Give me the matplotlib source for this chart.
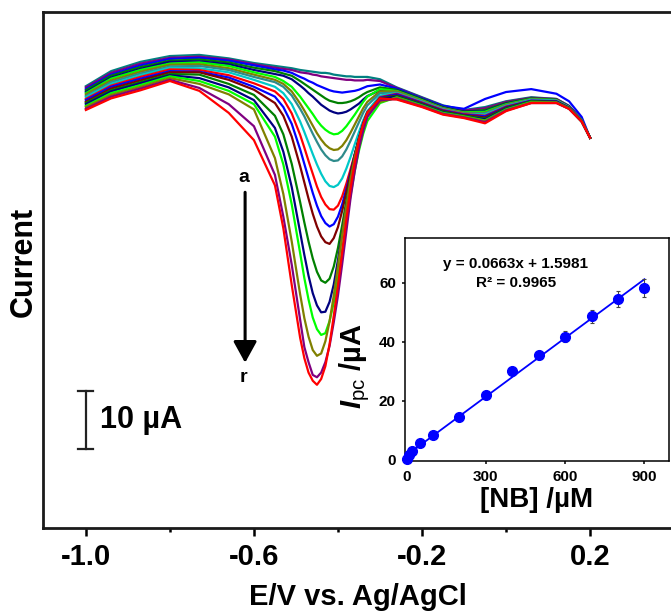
import matplotlib
matplotlib.use('Agg')
import matplotlib.pyplot as plt

plt.rcParams['font.family'] = ['Liberation Sans', 'DejaVu Sans']
plt.rcParams['axes.unicode_minus'] = False
plt.rcParams['mathtext.fontset'] = 'custom'
plt.rcParams['mathtext.it'] = 'Liberation Sans:italic:bold'
plt.rcParams['mathtext.rm'] = 'Liberation Sans:bold'
plt.rcParams['mathtext.sf'] = 'Liberation Sans'

# potential grid (V) shared by all DPV curves
potential = [-1.00, -0.94, -0.87, -0.80, -0.73, -0.66, -0.60,
             -0.55, -0.53, -0.51, -0.49, -0.48, -0.47, -0.46, -0.45, -0.44, -0.43,
             -0.42, -0.41, -0.40, -0.39, -0.38, -0.37, -0.36, -0.35, -0.34, -0.33, -0.30,
             -0.26, -0.20, -0.15, -0.10, -0.05, 0.00, 0.06, 0.12, 0.15, 0.18, 0.20]

# currents (uA), curves a..r
cur_a = [-4.5, -1.9, -0.3, 0.7, 0.9, 0.3, -0.5,
         -1.0, -1.2, -1.4, -1.7, -1.8, -1.9, -2.0, -2.1, -2.2, -2.2,
         -2.3, -2.5, -2.6, -2.7, -2.8, -2.8, -2.9, -2.9, -2.9, -2.9, -3.3,
         -4.7, -6.4, -7.8, -8.6, -8.1, -7.1, -6.4, -6.7, -7.9, -10.3, -13.4]
cur_b = [-4.7, -2.2, -0.6, 0.4, 0.6, 0.1, -0.7,
         -1.3, -1.5, -1.7, -2.1, -2.2, -2.3, -2.5, -2.6, -2.8, -2.9,
         -3.0, -3.1, -3.2, -3.3, -3.4, -3.4, -3.5, -3.5, -3.5, -3.4, -3.6,
         -4.8, -6.5, -7.9, -8.7, -8.3, -7.2, -6.5, -6.7, -7.9, -10.3, -13.4]
cur_c = [-5.0, -2.5, -0.9, 0.2, 0.4, -0.1, -0.9,
         -1.6, -1.8, -2.2, -2.9, -3.2, -3.6, -3.9, -4.3, -4.6, -4.9,
         -5.2, -5.4, -5.5, -5.6, -5.5, -5.4, -5.3, -5.1, -4.8, -4.5, -4.2,
         -4.9, -6.6, -7.9, -8.4, -6.7, -5.5, -5.0, -5.8, -7.1, -9.8, -13.4]
cur_d = [-5.2, -2.7, -1.2, -0.1, 0.1, -0.4, -1.3,
         -1.9, -2.3, -2.7, -3.6, -4.1, -4.6, -5.1, -5.6, -6.1, -6.6,
         -7.0, -7.2, -7.4, -7.4, -7.3, -7.1, -6.8, -6.4, -5.9, -5.5, -4.7,
         -5.1, -6.7, -8.1, -8.9, -8.6, -7.4, -6.6, -6.8, -8.0, -10.4, -13.4]
cur_e = [-5.5, -3.0, -1.5, -0.3, -0.2, -0.7, -1.7,
         -2.4, -2.7, -3.3, -4.4, -5.0, -5.7, -6.3, -7.0, -7.7, -8.2,
         -8.7, -9.0, -9.2, -9.1, -8.9, -8.5, -8.0, -7.5, -6.8, -6.2, -5.2,
         -5.2, -6.8, -8.2, -8.9, -8.8, -7.5, -6.7, -6.9, -8.0, -10.4, -13.4]
cur_f = [-5.7, -3.2, -1.7, -0.6, -0.4, -1.0, -2.1,
         -2.9, -3.6, -4.6, -6.3, -7.3, -8.3, -9.3, -10.4, -11.3, -12.0,
         -12.5, -12.8, -12.7, -12.2, -11.4, -10.4, -9.4, -8.3, -7.2, -6.3, -5.0,
         -5.3, -6.9, -8.3, -9.0, -8.9, -7.6, -6.7, -6.9, -8.1, -10.4, -13.4]
cur_g = [-5.9, -3.5, -2.0, -0.8, -0.7, -1.4, -2.5,
         -3.4, -4.1, -5.4, -7.5, -8.7, -10.0, -11.3, -12.6, -13.7, -14.6,
         -15.2, -15.5, -15.4, -14.8, -13.8, -12.5, -11.1, -9.7, -8.3, -7.2, -5.4,
         -5.4, -7.0, -8.3, -9.1, -9.1, -7.7, -6.8, -6.9, -8.1, -10.4, -13.4]
cur_h = [-6.2, -3.8, -2.3, -1.1, -1.0, -1.7, -2.9,
         -3.8, -4.6, -6.1, -8.4, -9.7, -11.2, -12.7, -14.1, -15.4, -16.4,
         -17.1, -17.4, -17.3, -16.6, -15.4, -13.9, -12.3, -10.7, -9.1, -7.8, -5.7,
         -5.6, -7.1, -8.4, -9.2, -9.2, -7.8, -6.8, -7.0, -8.1, -10.4, -13.4]
cur_i = [-6.4, -4.1, -2.6, -1.3, -1.4, -2.1, -3.4,
         -4.6, -5.7, -7.6, -10.6, -12.4, -14.3, -16.2, -18.0, -19.6, -20.9,
         -21.7, -21.9, -21.5, -20.4, -18.7, -16.7, -14.5, -12.4, -10.4, -8.8, -6.1,
         -5.7, -7.2, -8.5, -9.3, -9.4, -7.9, -6.9, -7.0, -8.1, -10.5, -13.4]
cur_j = [-6.7, -4.4, -2.9, -1.6, -1.7, -2.6, -4.0,
         -5.4, -6.7, -9.2, -12.9, -15.1, -17.4, -19.6, -21.8, -23.6, -24.9,
         -25.7, -25.8, -25.1, -23.5, -21.3, -18.8, -16.2, -13.6, -11.3, -9.4, -6.4,
         -5.8, -7.3, -8.6, -9.3, -9.6, -8.0, -7.0, -7.1, -8.2, -10.5, -13.4]
cur_k = [-6.9, -4.6, -3.2, -1.9, -2.0, -3.0, -4.6,
         -6.3, -8.1, -11.0, -15.4, -17.9, -20.4, -22.9, -25.1, -26.9, -28.1,
         -28.7, -28.3, -27.0, -24.9, -22.2, -19.3, -16.3, -13.6, -11.2, -9.3, -6.5,
         -5.9, -7.4, -8.7, -9.4, -9.7, -8.1, -7.0, -7.1, -8.2, -10.5, -13.4]
cur_l = [-7.2, -4.9, -3.5, -2.1, -2.1, -3.4, -5.1,
         -7.4, -9.6, -13.2, -18.3, -21.1, -23.9, -26.5, -28.7, -30.4, -31.4,
         -31.7, -30.7, -28.8, -26.0, -22.8, -19.5, -16.3, -13.5, -11.1, -9.2, -6.6,
         -6.1, -7.5, -8.8, -9.5, -9.9, -8.2, -7.1, -7.2, -8.2, -10.5, -13.4]
cur_m = [-7.4, -5.2, -3.8, -2.4, -2.5, -4.1, -6.0,
         -9.6, -12.8, -17.9, -24.5, -28.0, -31.3, -34.2, -36.5, -38.0, -38.4,
         -37.7, -35.6, -32.4, -28.5, -24.3, -20.3, -16.6, -13.6, -11.0, -9.1, -6.6,
         -6.2, -7.6, -8.9, -9.6, -10.1, -8.3, -7.1, -7.2, -8.3, -10.5, -13.4]
cur_n = [-7.6, -5.4, -4.0, -2.6, -3.1, -4.7, -6.9,
         -11.7, -15.8, -21.9, -29.7, -33.6, -37.2, -40.2, -42.3, -43.5, -43.4,
         -41.7, -38.7, -34.5, -29.9, -25.0, -20.6, -16.6, -13.4, -10.9, -9.0, -6.7,
         -6.3, -7.7, -9.0, -9.7, -10.2, -8.4, -7.2, -7.2, -8.3, -10.6, -13.4]
cur_o = [-7.9, -5.7, -4.3, -2.8, -3.6, -5.3, -7.6,
         -13.2, -18.0, -24.9, -33.3, -37.6, -41.3, -44.4, -46.4, -47.4, -47.1,
         -45.0, -41.8, -37.6, -32.8, -27.9, -23.3, -19.1, -15.6, -12.7, -10.5, -7.4,
         -6.4, -7.8, -9.1, -9.7, -10.4, -8.5, -7.2, -7.3, -8.3, -10.6, -13.4]
cur_p = [-8.1, -6.0, -4.6, -3.1, -4.1, -5.9, -8.5,
         -16.9, -23.1, -31.3, -40.4, -44.5, -47.7, -50.0, -51.0, -50.6, -48.5,
         -45.1, -40.6, -35.5, -30.1, -25.1, -20.5, -16.7, -13.6, -11.2, -9.4, -7.2,
         -6.5, -7.9, -9.2, -9.8, -10.5, -8.6, -7.3, -7.3, -8.4, -10.6, -13.4]
cur_q = [-8.4, -6.3, -4.9, -3.4, -4.8, -7.6, -11.4,
         -19.8, -27.0, -35.3, -44.8, -49.5, -52.1, -54.3, -54.7, -53.9, -52.1,
         -49.3, -45.2, -40.6, -35.2, -29.5, -23.8, -19.1, -15.2, -12.2, -9.8, -6.9,
         -6.7, -8.0, -9.3, -9.9, -10.7, -8.7, -7.4, -7.4, -8.4, -10.6, -13.4]
cur_r = [-8.6, -6.6, -5.2, -3.6, -5.3, -9.1, -13.8,
         -21.6, -29.0, -38.8, -47.9, -51.4, -53.9, -55.3, -56.0, -55.0, -52.8,
         -49.0, -44.1, -38.8, -33.1, -27.4, -22.1, -17.6, -13.8, -11.0, -9.0, -6.6,
         -6.8, -8.1, -9.4, -10.0, -10.9, -8.8, -7.4, -7.4, -8.4, -10.6, -13.4]

currents = [cur_a, cur_b, cur_c, cur_d, cur_e, cur_f, cur_g, cur_h, cur_i,
            cur_j, cur_k, cur_l, cur_m, cur_n, cur_o, cur_p, cur_q, cur_r]
curve_colors = ['#008080', '#800080', '#0000FF', '#008000', '#000080', '#00FF00',
                '#808000', '#2E8B8B', '#00C8C8', '#FF0000', '#0000FF', '#800000',
                '#008000', '#000080', '#00FF00', '#808000', '#800080', '#FF0000']

# calibration plot (inset)
nb_conc = [0, 10, 20, 50, 100, 200, 300, 400, 500, 600, 700, 800, 900]
ipc = [0.3, 1.6, 2.9, 5.6, 8.5, 14.6, 22.0, 30.2, 35.7, 41.8, 48.7, 54.5, 58.2]
ipc_err = [0.3, 0.3, 0.4, 0.5, 0.5, 0.6, 0.7, 0.9, 1.3, 1.8, 2.3, 2.7, 3.0]
fit_slope = 0.0663
fit_intercept = 1.5981
fit_r2 = 0.9965
scale_bar_uA = 10

fig = plt.figure(figsize=(6.71, 6.11), dpi=100)

# main DPV plot
ax = fig.add_axes([43/671, 83/611, 629/671, 516/611])
for cur, col in zip(currents, curve_colors):
    ax.plot(potential, cur, color=col, lw=1.6, solid_joinstyle='round')

ax.set_xlim(-1.102, 0.395)
ax.set_ylim(-80.7, 8.3)
ax.spines['right'].set_visible(False)
for s in ['left', 'top', 'bottom']:
    ax.spines[s].set_linewidth(2.0)
    ax.spines[s].set_color('#1a1a1a')
ax.set_xticks([-1.0, -0.6, -0.2, 0.2])
ax.set_xticklabels(['-1.0', '-0.6', '-0.2', '0.2'], fontweight='bold')
ax.set_xticks([-0.8, -0.4, 0.0], minor=True)
ax.set_yticks([])
ax.tick_params(axis='x', which='major', direction='out', length=6, width=1.8,
               labelsize=21, pad=5)
ax.tick_params(axis='x', which='minor', direction='out', length=3, width=1.8)

ax.set_xlabel('E/V vs. Ag/AgCl', fontsize=21, fontweight='bold')
ax.xaxis.set_label_coords(0.5, -0.134)
ax.xaxis.label.set_va('center')
ax.set_ylabel('Current', fontsize=22, fontweight='bold')
ax.yaxis.set_label_coords(-0.030, 0.516)
ax.yaxis.label.set_va('center')

# scale bar
bx, by = -1.0, -67.1
ax.plot([bx, bx], [by, by + scale_bar_uA], color='#222222', lw=1.6)
ax.plot([bx - 0.018, bx + 0.018], [by, by], color='#222222', lw=1.6)
ax.plot([bx - 0.018, bx + 0.018], [by + scale_bar_uA, by + scale_bar_uA], color='#222222', lw=1.6)
ax.text(-0.966, by + scale_bar_uA / 2, '%d µA' % scale_bar_uA, fontsize=22,
        fontweight='bold', ha='left', va='center')

# arrow a -> r
ax.annotate('', xy=(-0.621, -52.2), xytext=(-0.621, -22.8),
            arrowprops=dict(arrowstyle='-|>,head_length=1.0,head_width=0.55',
                            mutation_scale=13, lw=2.2, color='black',
                            shrinkA=0, shrinkB=0))
ax.text(-0.625, -20.3, 'a', fontsize=14, fontweight='bold', ha='center', va='center')
ax.text(-0.625, -54.7, 'r', fontsize=14, fontweight='bold', ha='center', va='center')

# inset calibration plot
ax_in = fig.add_axes([405/671, 150/611, 264/671, 223/611])
ax_in.plot([0, 900], [fit_intercept, fit_slope * 900 + fit_intercept], color='#0000FF', lw=1.3)
ax_in.errorbar(nb_conc, ipc, yerr=ipc_err, fmt='o', color='#0000FF', ms=7,
               ecolor='#444444', elinewidth=0.8, capsize=1.5, capthick=0.8,
               zorder=3, clip_on=False)
ax_in.set_xlim(-6, 993)
ax_in.set_ylim(-0.34, 75.25)
ax_in.set_xticks([0, 300, 600, 900])
ax_in.set_yticks([0, 20, 40, 60])
ax_in.tick_params(direction='out', length=2.5, width=1.1, labelsize=11, pad=4)
for lab in ax_in.get_xticklabels() + ax_in.get_yticklabels():
    lab.set_fontweight('bold')
for s in ax_in.spines.values():
    s.set_linewidth(1.1)
ax_in.set_xlabel('[NB] /µM', fontsize=20, fontweight='bold')
ax_in.xaxis.set_label_coords(0.5, -0.175)
ax_in.xaxis.label.set_va('center')
ax_in.set_ylabel(r'$I_{\mathsf{pc}}$ /µA', fontsize=21, fontweight='bold')
ax_in.yaxis.set_label_coords(-0.189, 0.426)
ax_in.yaxis.label.set_va('center')
ax_in.text(0.42, 0.883, 'y = %.4fx + %.4f' % (fit_slope, fit_intercept),
           transform=ax_in.transAxes, ha='center', va='center', fontsize=11, fontweight='bold')
ax_in.text(0.42, 0.798, 'R² = %.4f' % fit_r2,
           transform=ax_in.transAxes, ha='center', va='center', fontsize=11, fontweight='bold')

fig.savefig('out.png', dpi=100)
